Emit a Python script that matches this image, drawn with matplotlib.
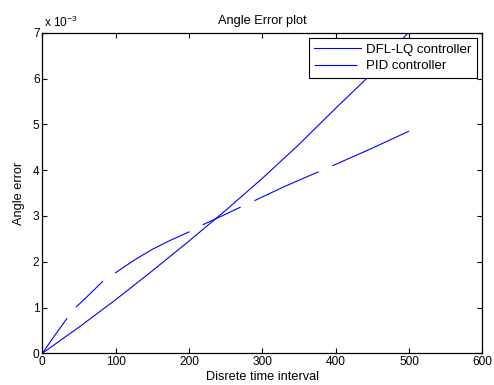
import numpy as np
import matplotlib
matplotlib.use('Agg')
import matplotlib.pyplot as plt

plt.rcParams['font.family'] = ['Liberation Sans', 'DejaVu Sans']
plt.rcParams['font.size'] = 8
plt.rcParams['mathtext.fontset'] = 'custom'
plt.rcParams['mathtext.rm'] = 'Liberation Sans'
plt.rcParams['lines.scale_dashes'] = False

# data, y in units of 1e-3
dfl_x = [0, 35, 50, 100, 150, 200, 250, 300, 350, 400, 450, 500]
dfl_y = [0, 0.40, 0.57, 1.17, 1.80, 2.45, 3.12, 3.82, 4.56, 5.35, 6.12, 7.02]

pid_x = [0, 17, 34, 46, 60, 83, 99, 125, 150, 175, 200, 218, 245, 270, 289, 330, 376, 395, 450, 500]
pid_y = [0, 0.39, 0.77, 1.01, 1.22, 1.58, 1.75, 2.03, 2.27, 2.47, 2.65, 2.80, 3.00, 3.19, 3.33,
         3.64, 3.96, 4.09, 4.48, 4.85]

x_ticks = [0, 100, 200, 300, 400, 500, 600]
y_ticks = [0, 1, 2, 3, 4, 5, 6, 7]

fig = plt.figure(figsize=(4.94, 3.85), dpi=100)
ax = fig.add_axes([0.0856, 0.0823, 0.8907, 0.8327])

ax.plot(dfl_x, np.array(dfl_y) * 1e-3, color='#0000ff', lw=0.8, label='DFL-LQ controller')
ax.plot(pid_x, np.array(pid_y) * 1e-3, color='#0000ff', lw=0.8, label='PID controller',
        dashes=[31, 10.2, 27, 10.4, 61.5, 10.7, 30.2, 10.9, 50.6, 10.9, 61, 40])

ax.set_xlim(0, 600)
ax.set_ylim(0, 7e-3)
ax.set_xticks(x_ticks)
ax.set_yticks(np.array(y_ticks) * 1e-3)
ax.set_yticklabels([str(t) for t in y_ticks])
ax.tick_params(direction='in', top=True, right=True, length=3.5, width=0.8, pad=2,
               labelsize=8.6)
for s in ax.spines.values():
    s.set_linewidth(0.9)

ax.text(0.005, 1.008, r'x 10$^{-3}$', transform=ax.transAxes, fontsize=8.6, va='bottom')
ax.set_title('Angle Error plot', fontsize=9.2, pad=6)
ax.set_xlabel('Disrete time interval', fontsize=9.2, labelpad=2)
ax.set_ylabel('Angle error', fontsize=9.2, labelpad=6)

leg = ax.legend(loc='upper right', fontsize=9.5, fancybox=False, framealpha=1,
                edgecolor='black', handlelength=3.5, handletextpad=0.45,
                labelspacing=0.35, borderaxespad=0.4, borderpad=0.4)
leg.get_frame().set_linewidth(0.8)

plt.savefig('out.png', dpi=100)
